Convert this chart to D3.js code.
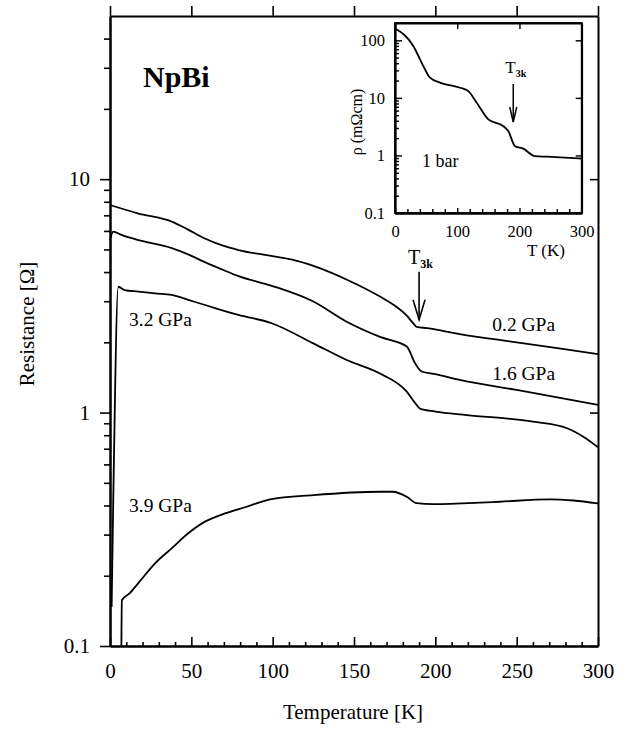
<!DOCTYPE html>
<html>
<head>
<meta charset="utf-8">
<script src="https://cdn.jsdelivr.net/npm/d3@7"></script>
<style>
body { margin: 0; background: white; }
text { font-family: "Liberation Serif", "Times New Roman", serif; fill: black; }
</style>
</head>
<body>
<svg id="chart" width="628" height="732"></svg>
<script>
// resistance of NpBi vs temperature, one curve per pressure
const temp_02 = [0, 17, 38, 48, 58, 69, 79, 99, 112, 125, 146, 166, 176, 182, 186.5, 188.5, 195, 215, 250, 300];
const res_02 = [7.75, 7.14, 6.58, 6.08, 5.58, 5.20, 4.97, 4.69, 4.52, 4.25, 3.70, 3.14, 2.84, 2.62, 2.41, 2.33, 2.30, 2.17, 2.00, 1.78];

const temp_16 = [0, 2, 7, 17, 38, 48, 58, 69, 79, 99, 125, 145.5, 166, 182.4, 187.5, 191.6, 200, 215, 250, 300];
const res_16 = [5.49, 5.96, 5.77, 5.49, 5.06, 4.76, 4.42, 4.10, 3.84, 3.50, 2.99, 2.45, 2.11, 1.92, 1.63, 1.50, 1.46, 1.38, 1.25, 1.08];

const temp_32 = [1.0, 2.0, 5.1, 9, 17.4, 27.7, 37.9, 48.1, 58.4, 78.9, 99, 125, 145.5, 166, 182.4, 187.5, 190.6, 200, 219.3, 260, 281, 291, 300];
const res_32 = [0.147, 0.42, 3.46, 3.35, 3.30, 3.24, 3.19, 3.04, 2.89, 2.62, 2.42, 1.98, 1.68, 1.47, 1.23, 1.10, 1.04, 1.01, 0.976, 0.914, 0.857, 0.788, 0.71];

const temp_39 = [7.0, 7.3, 12, 17.4, 27.7, 37.9, 48.1, 58.4, 70.7, 84, 98.4, 125, 166, 174, 182.4, 188.5, 198.5, 227.5, 239.7, 270.5, 285, 300];
const res_39 = [0.1, 0.157, 0.168, 0.186, 0.226, 0.262, 0.304, 0.341, 0.370, 0.395, 0.425, 0.443, 0.458, 0.458, 0.436, 0.409, 0.405, 0.411, 0.415, 0.425, 0.42, 0.408];

const pressure_labels = ["0.2 GPa", "1.6 GPa", "3.2 GPa", "3.9 GPa"];

const x_ticks = [0, 50, 100, 150, 200, 250, 300];
const y_ticks = [0.1, 1, 10];

// inset: resistivity at 1 bar
const inset_temp = [0, 29.4, 40.2, 45.5, 56.2, 72.3, 104.5, 117.8, 131.3, 150, 174, 182, 192.8, 206.2, 225, 243.8, 300];
const inset_rho = [160, 79.6, 46.8, 35.7, 22.4, 18.4, 15.0, 13.1, 8.25, 4.23, 3.24, 2.65, 1.45, 1.31, 0.97, 0.95, 0.88];
const inset_x_ticks = [0, 100, 200, 300];
const inset_y_ticks = [0.1, 1, 10, 100];

const T3K = 190;

var svg = d3.select("svg#chart");

var x = d3.scaleLinear().domain([0, 300]).range([110, 598]);
var y = d3.scaleLog().domain([0.1, 50]).range([646, 16]);

var fmt = d => d3.format("~g")(d);

function minor_log(lo, hi) {
    var out = [];
    for (var dec = lo; dec < hi; dec *= 10) {
        for (var m = 2; m <= 9; m++) {
            var v = +(m * dec).toPrecision(3);
            if (v < hi) out.push(v);
        }
    }
    return out;
}

function style_axis(g, width) {
    g.selectAll("path.domain").attr("stroke", "black").attr("stroke-width", width);
    g.selectAll(".tick line").attr("stroke", "black").attr("stroke-width", width * 0.8);
    g.selectAll(".tick text").attr("font-family", "Liberation Serif").attr("fill", "black");
}

// ---- main axes
var left = svg.append("g").attr("transform", "translate(110,0)")
    .call(d3.axisLeft(y).tickValues(y_ticks).tickSize(10).tickSizeOuter(0).tickPadding(10).tickFormat(fmt));
left.selectAll(".tick text").attr("font-size", 21);
style_axis(left, 2);

var left_minor = svg.append("g").attr("transform", "translate(110,0)")
    .call(d3.axisLeft(y).tickValues(minor_log(0.1, 50)).tickSize(6).tickSizeOuter(0).tickFormat(""));
style_axis(left_minor, 2);

var right = svg.append("g").attr("transform", "translate(598,0)")
    .call(d3.axisRight(y).tickValues(y_ticks).tickSize(-8).tickSizeOuter(0).tickFormat(""));
style_axis(right, 2);

var bottom = svg.append("g").attr("transform", "translate(0,646)")
    .call(d3.axisBottom(x).tickValues(x_ticks).tickSize(-9).tickSizeOuter(0).tickPadding(17).tickFormat(fmt));
bottom.selectAll(".tick text").attr("font-size", 21);
style_axis(bottom, 2);

var bottom_minor = svg.append("g").attr("transform", "translate(0,646)")
    .call(d3.axisBottom(x).tickValues(d3.range(10, 300, 10).filter(v => v % 50 != 0)).tickSize(-4).tickSizeOuter(0).tickFormat(""));
style_axis(bottom_minor, 2);

var top_axis = svg.append("g").attr("transform", "translate(0,16)")
    .call(d3.axisTop(x).tickValues(x_ticks).tickSize(10).tickSizeOuter(0).tickFormat(""));
style_axis(top_axis, 2);

svg.append("text")
    .attr("x", 353)
    .attr("y", 719)
    .attr("text-anchor", "middle")
    .attr("font-size", 21)
    .text("Temperature [K]");

svg.append("text")
    .attr("transform", "translate(34,324) rotate(-90)")
    .attr("text-anchor", "middle")
    .attr("font-size", 21)
    .text("Resistance [\u03a9]");

// ---- main curves
var line = d3.line()
    .x(d => x(d[0]))
    .y(d => y(d[1]))
    .curve(d3.curveMonotoneX);

var series = [
    d3.zip(temp_02, res_02),
    d3.zip(temp_16, res_16),
    d3.zip(temp_32, res_32),
    d3.zip(temp_39, res_39)
];

svg.append("g").selectAll("path")
    .data(series)
    .join("path")
    .attr("d", line)
    .attr("fill", "none")
    .attr("stroke", "black")
    .attr("stroke-width", 1.8);

var label_pos = [[235, 331], [235, 380], [11.7, 325.7], [11.7, 512]];
svg.append("g").selectAll("text")
    .data(pressure_labels)
    .join("text")
    .attr("x", (d, i) => x(label_pos[i][0]))
    .attr("y", (d, i) => label_pos[i][1])
    .attr("font-size", 19.5)
    .text(d => d);

svg.append("text")
    .attr("x", 143)
    .attr("y", 87)
    .attr("font-size", 30)
    .attr("font-weight", "bold")
    .text("NpBi");

// T3k arrow on main plot
var tip_main = y(res_02[temp_02.indexOf(188.5)]) - 7;
function draw_arrow(g, ax, y_top, y_tip, wing_len, wing_w, w) {
    g.append("line").attr("x1", ax).attr("x2", ax).attr("y1", y_top).attr("y2", y_tip)
        .attr("stroke", "black").attr("stroke-width", w);
    g.append("path")
        .attr("d", "M" + (ax - wing_w) + "," + (y_tip - wing_len) + "L" + ax + "," + y_tip + "L" + (ax + wing_w) + "," + (y_tip - wing_len))
        .attr("fill", "none").attr("stroke", "black").attr("stroke-width", w);
}
draw_arrow(svg, x(T3K), tip_main - 48, tip_main, 20, 6, 1.6);

var t3k_main = svg.append("text").attr("x", x(T3K) - 11).attr("y", 264).attr("font-size", 20);
t3k_main.append("tspan").text("T");
t3k_main.append("tspan").attr("font-size", 12).attr("font-weight", "bold").attr("dy", 4).text("3k");

// ---- inset
var xi = d3.scaleLinear().domain([0, 300]).range([395, 581.7]);
var yi = d3.scaleLog().domain([0.1, 200]).range([213, 23]);

svg.append("rect")
    .attr("x", 395).attr("y", 23)
    .attr("width", 186.7).attr("height", 190)
    .attr("fill", "white").attr("stroke", "black").attr("stroke-width", 1.8);

var in_left = svg.append("g").attr("transform", "translate(395,0)")
    .call(d3.axisLeft(yi).tickValues(inset_y_ticks).tickSize(-7).tickSizeOuter(0).tickPadding(10).tickFormat(fmt));
in_left.selectAll(".tick text").attr("font-size", 16.5);
style_axis(in_left, 1.8);

var in_left_minor = svg.append("g").attr("transform", "translate(395,0)")
    .call(d3.axisLeft(yi).tickValues(minor_log(0.1, 200)).tickSize(-4).tickSizeOuter(0).tickFormat(""));
style_axis(in_left_minor, 1.8);

var in_right = svg.append("g").attr("transform", "translate(581.7,0)")
    .call(d3.axisRight(yi).tickValues(inset_y_ticks).tickSize(-6).tickSizeOuter(0).tickFormat(""));
style_axis(in_right, 1.8);

var in_bottom = svg.append("g").attr("transform", "translate(0,213)")
    .call(d3.axisBottom(xi).tickValues(inset_x_ticks).tickSize(-5).tickSizeOuter(0).tickPadding(12).tickFormat(fmt));
in_bottom.selectAll(".tick text").attr("font-size", 16.5);
style_axis(in_bottom, 1.8);

var in_bottom_minor = svg.append("g").attr("transform", "translate(0,213)")
    .call(d3.axisBottom(xi).tickValues(d3.range(20, 300, 20).filter(v => v % 100 != 0)).tickSize(-4).tickSizeOuter(0).tickFormat(""));
style_axis(in_bottom_minor, 1.8);

var in_top = svg.append("g").attr("transform", "translate(0,23)")
    .call(d3.axisTop(xi).tickValues(inset_x_ticks).tickSize(-6).tickSizeOuter(0).tickFormat(""));
style_axis(in_top, 1.8);

svg.append("path")
    .datum(d3.zip(inset_temp, inset_rho))
    .attr("d", d3.line().x(d => xi(d[0])).y(d => yi(d[1])).curve(d3.curveMonotoneX))
    .attr("fill", "none")
    .attr("stroke", "black")
    .attr("stroke-width", 1.8);

svg.append("text")
    .attr("x", 546)
    .attr("y", 256)
    .attr("text-anchor", "middle")
    .attr("font-size", 17)
    .text("T (K)");

svg.append("text")
    .attr("transform", "translate(362,122) rotate(-90)")
    .attr("text-anchor", "middle")
    .attr("font-size", 16)
    .text("\u03c1 (m\u03a9cm)");

svg.append("text")
    .attr("x", 422)
    .attr("y", 167)
    .attr("font-size", 18)
    .text("1 bar");

var tip_inset = 122;
draw_arrow(svg, xi(T3K), tip_inset - 38, tip_inset, 15, 3.5, 1.5);

var t3k_inset = svg.append("text").attr("x", xi(T3K) - 8).attr("y", 73).attr("font-size", 17);
t3k_inset.append("tspan").text("T");
t3k_inset.append("tspan").attr("font-size", 10).attr("font-weight", "bold").attr("dy", 4).text("3k");
</script>
</body>
</html>
